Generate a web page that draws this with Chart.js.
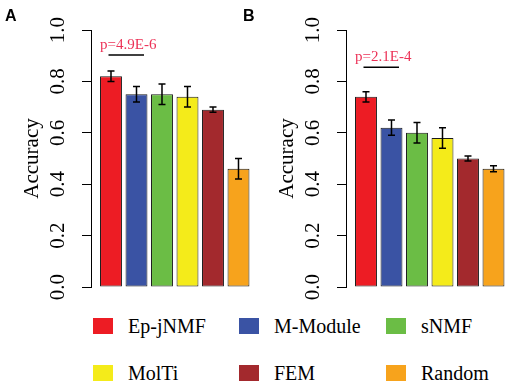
<!DOCTYPE html>
<html>
<head>
<meta charset="utf-8">
<script src="https://cdn.jsdelivr.net/npm/chart.js@4"></script>
<style>
  body { margin: 0; background: #fff; }
  #wrap { position: relative; width: 510px; height: 389px; overflow: hidden; }
  .panel { position: absolute; top: 0; }
  .tag { position: absolute; top: 8px; font: bold 16px/16px "Liberation Sans", Arial, sans-serif; color: #000; }
  #legend { position: absolute; left: 93px; top: 310px; display: grid; grid-template-columns: 146px 147px 124px; row-gap: 15px; }
  .item { display: flex; align-items: center; height: 32px; font: 20px "Liberation Serif", "Times New Roman", serif; color: #000; }
  .box { width: 20px; height: 16px; margin-right: 15px; }
</style>
</head>
<body>
<div id="wrap">
  <canvas id="chartA" class="panel" width="255" height="300" style="left:0"></canvas>
  <canvas id="chartB" class="panel" width="255" height="300" style="left:255px"></canvas>
  <div class="tag" style="left:5px">A</div>
  <div class="tag" style="left:243px">B</div>
  <div id="legend"></div>
</div>
<script>
// methods and colours (same order in both panels)
const methods = ['Ep-jNMF', 'M-Module', 'sNMF', 'MolTi', 'FEM', 'Random'];
const colors = ['#ed1c24', '#3a53a4', '#6bbd45', '#f4eb1a', '#a3292d', '#f7a31c'];

// panel A
const accA = [0.82, 0.75, 0.75, 0.74, 0.69, 0.46];
const errA = [0.02, 0.03, 0.04, 0.04, 0.01, 0.04];
const pvalA = 'p=4.9E-6';
const sigA = 0.903;

// panel B
const accB = [0.74, 0.62, 0.60, 0.58, 0.50, 0.46];
const errB = [0.02, 0.03, 0.04, 0.04, 0.01, 0.012];
const pvalB = 'p=2.1E-4';
const sigB = 0.855;

const yTicks = [0, 0.2, 0.4, 0.6, 0.8, 1.0];
const serif = '"Liberation Serif", "Times New Roman", serif';

// legend
const legend = document.getElementById('legend');
methods.forEach((m, i) => {
  const item = document.createElement('div');
  item.className = 'item';
  item.innerHTML = '<span class="box" style="background:' + colors[i] + '"></span>' + m;
  legend.appendChild(item);
});

function extras(err, pval, level) {
  return {
    id: 'extras',
    afterDatasetsDraw(chart) {
      const ctx = chart.ctx;
      const y = chart.scales.y;
      const bars = chart.getDatasetMeta(0).data;
      const vals = chart.data.datasets[0].data;
      ctx.save();
      // error bars
      ctx.strokeStyle = '#000';
      ctx.lineWidth = 1.5;
      bars.forEach((bar, i) => {
        const top = y.getPixelForValue(vals[i].y + err[i]);
        const bot = y.getPixelForValue(vals[i].y - err[i]);
        ctx.beginPath();
        ctx.moveTo(bar.x, top); ctx.lineTo(bar.x, bot);
        ctx.moveTo(bar.x - 3.5, top); ctx.lineTo(bar.x + 3.5, top);
        ctx.moveTo(bar.x - 3.5, bot); ctx.lineTo(bar.x + 3.5, bot);
        ctx.stroke();
      });
      // significance mark between the first two bars
      const ly = y.getPixelForValue(level);
      const x0 = bars[0].x - 2.5, x1 = bars[1].x + 7.5;
      ctx.beginPath();
      ctx.moveTo(x0, ly); ctx.lineTo(x1, ly);
      ctx.stroke();
      ctx.fillStyle = '#ec3257';
      ctx.font = '15px ' + serif;
      ctx.textAlign = 'center';
      ctx.textBaseline = 'alphabetic';
      ctx.fillText(pval, (x0 + x1) / 2 + 2, ly - 6);
      ctx.restore();
    },
    afterDraw(chart) {
      // rotated y tick labels, R style
      const ctx = chart.ctx;
      const y = chart.scales.y;
      ctx.save();
      ctx.fillStyle = '#000';
      ctx.font = '21px ' + serif;
      ctx.textAlign = 'center';
      ctx.textBaseline = 'middle';
      y.ticks.forEach(t => {
        ctx.save();
        ctx.translate(y.right - 33, y.getPixelForValue(t.value));
        ctx.rotate(-Math.PI / 2);
        ctx.fillText(t.value.toFixed(1), 0, 0);
        ctx.restore();
      });
      ctx.restore();
    }
  };
}

function makeChart(id, acc, err, pval, level) {
  new Chart(document.getElementById(id), {
    type: 'bar',
    data: {
      datasets: [{
        data: acc.map((v, i) => ({ x: i, y: v })),
        backgroundColor: colors,
        borderColor: '#1a1a1a',
        borderWidth: 1,
        borderSkipped: false,
        barPercentage: 0.86,
        categoryPercentage: 1
      }]
    },
    options: {
      responsive: false,
      devicePixelRatio: 1,
      animation: false,
      layout: { padding: { left: 0, right: 1, top: 30, bottom: 13 } },
      plugins: { legend: { display: false }, tooltip: { enabled: false } },
      scales: {
        x: {
          type: 'linear',
          min: -0.784,
          max: 5.608,
          offset: false,
          grid: { offset: false },
          display: false,
          afterBuildTicks: s => { s.ticks = methods.map((m, i) => ({ value: i })); }
        },
        y: {
          min: 0,
          max: 1,
          afterBuildTicks: s => { s.ticks = yTicks.map(v => ({ value: v })); },
          afterFit: s => { s.width = 91; },
          ticks: { display: false },
          grid: { drawOnChartArea: false, drawTicks: true, tickLength: 9, color: '#000', lineWidth: 1 },
          border: { display: true, color: '#000', width: 1 },
          title: {
            display: true,
            text: 'Accuracy',
            color: '#000',
            font: { family: serif, size: 21 },
            padding: { top: 20, bottom: 0 }
          }
        }
      }
    },
    plugins: [extras(err, pval, level)]
  });
}

makeChart('chartA', accA, errA, pvalA, sigA);
makeChart('chartB', accB, errB, pvalB, sigB);
</script>
</body>
</html>
